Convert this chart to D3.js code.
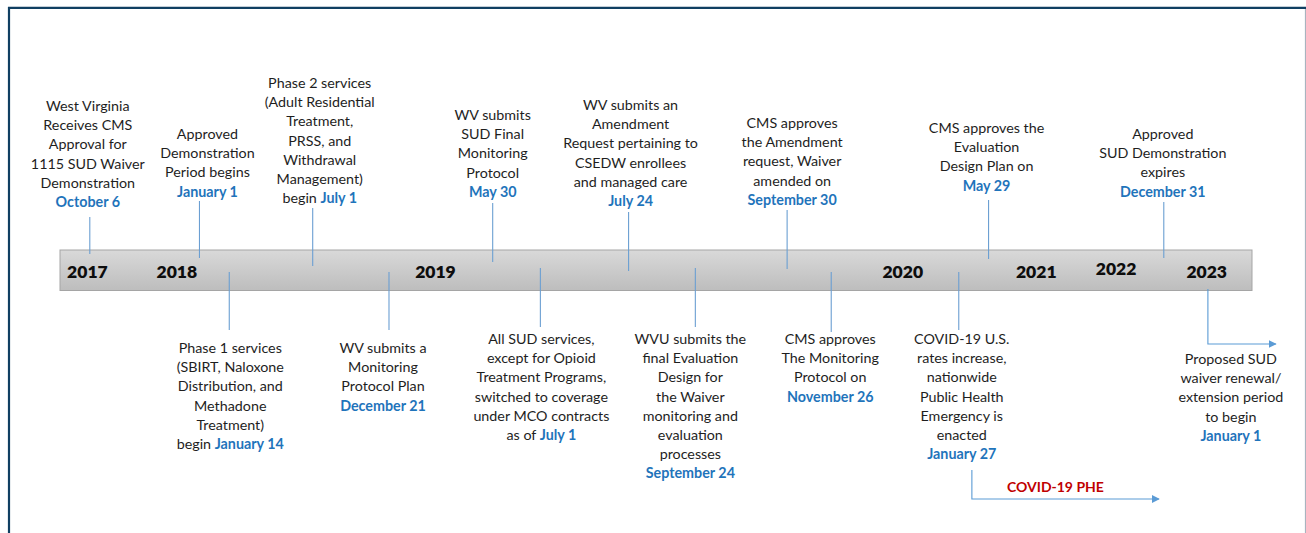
<!DOCTYPE html>
<html>
<head>
<meta charset="utf-8">
<script src="https://cdn.jsdelivr.net/npm/d3@7"></script>
<style>
  html, body { margin: 0; padding: 0; background: #fff; }
  svg { display: block; }
</style>
</head>
<body>
<svg id="chart" width="1306" height="533"></svg>
<script>
// ---------- DATA ----------
// Year labels on the track and their position along the track (% of track length)
const yearLabels = ["2017", "2018", "2019", "2020", "2021", "2022", "2023"];
const yearPos    = [2.3, 9.8, 31.5, 70.7, 81.9, 88.6, 96.2];

// Events above the track
const topText = [
  ["West Virginia", "Receives CMS", "Approval for", "1115 SUD Waiver", "Demonstration"],
  ["Approved", "Demonstration", "Period begins"],
  ["Phase 2 services", "(Adult Residential", "Treatment,", "PRSS, and", "Withdrawal", "Management)"],
  ["WV submits", "SUD Final", "Monitoring", "Protocol"],
  ["WV submits an", "Amendment", "Request pertaining to", "CSEDW enrollees", "and managed care"],
  ["CMS approves", "the Amendment", "request, Waiver", "amended on"],
  ["CMS approves the", "Evaluation", "Design Plan on"],
  ["Approved", "SUD Demonstration", "expires"]
];
const topDatePrefix = ["", "", "begin ", "", "", "", "", ""];
const topDates = ["October 6", "January 1", "July 1", "May 30", "July 24", "September 30", "May 29", "December 31"];
const topPos   = [2.5, 11.7, 21.2, 36.3, 47.7, 61.0, 77.9, 92.6];

// Events below the track
const bottomText = [
  ["Phase 1 services", "(SBIRT, Naloxone", "Distribution, and", "Methadone", "Treatment)"],
  ["WV submits a", "Monitoring", "Protocol Plan"],
  ["All SUD services,", "except for Opioid", "Treatment Programs,", "switched to coverage", "under MCO contracts"],
  ["WVU submits the", "final Evaluation", "Design for", "the Waiver", "monitoring and", "evaluation", "processes"],
  ["CMS approves", "The Monitoring", "Protocol on"],
  ["COVID-19 U.S.", "rates increase,", "nationwide", "Public Health", "Emergency is", "enacted"],
  ["Proposed SUD", "waiver renewal/", "extension period", "to begin"]
];
const bottomDatePrefix = ["begin ", "", "as of ", "", "", "", ""];
const bottomDates = ["January 14", "December 21", "July 1", "September 24", "November 26", "January 27", "January 1"];
const bottomPos   = [14.2, 27.6, 40.3, 53.3, 64.7, 75.4, 96.3];

// Period span below the track
const phaseLabels = ["COVID-19 PHE"];
const phaseStart  = [76.5];
const phaseEnd    = [92.2];

// ---------- LAYOUT (positions / styles, not data) ----------
const track = { x0: 60, x1: 1252, y0: 250, y1: 290.5 };
const lineH = 19.2;
// [label dx from stem, first-line center y, stem y-top, stem y-bottom]
const topLayout = [
  [-2, 106, 217, 254], [8, 134, 201, 258], [7, 83, 208, 266], [0, 115, 203, 262],
  [2, 105, 212, 271], [5, 123, 210, 269], [-2, 128, 200, 259], [-1, 134, 202, 258]
];
const bottomLayout = [
  [1, 348, 272, 330], [-6, 348, 272, 330], [1, 339, 268, 327], [-5, 339, 268, 327],
  [-1, 339, 272, 332], [3, 339, 272, 330], [23, 359, 289, 344]
];
const yearDy = [0, 0, 0, 0, 0, -3, 0];

const textColor = "#1e1e1e";
const dateColor = "#1f74bb";
const stemColor = "#6b9fd2";
const arrowColor = "#5b9bd5";
const font = "Lato, 'Open Sans', sans-serif";

// ---------- DRAW ----------
const svg = d3.select("#chart");
const x = d3.scaleLinear().domain([0, 100]).range([track.x0, track.x1]);

// frame
svg.append("rect").attr("x", 0).attr("y", 0).attr("width", 1306).attr("height", 533).attr("fill", "#fff");
svg.append("line").attr("x1", 1305.5).attr("x2", 1305.5).attr("y1", 8).attr("y2", 533)
  .attr("stroke", "#a9b4bf").attr("stroke-width", 1.2);
svg.append("line").attr("x1", 8).attr("x2", 1306).attr("y1", 7.8).attr("y2", 7.8)
  .attr("stroke", "#103f62").attr("stroke-width", 2.2);
svg.append("line").attr("x1", 9).attr("x2", 9).attr("y1", 7).attr("y2", 533)
  .attr("stroke", "#103f62").attr("stroke-width", 2.2);

// defs
const defs = svg.append("defs");
const grad = defs.append("linearGradient").attr("id", "trackGrad")
  .attr("x1", 0).attr("x2", 0).attr("y1", 0).attr("y2", 1);
grad.append("stop").attr("offset", "0%").attr("stop-color", "#d9d9d9");
grad.append("stop").attr("offset", "100%").attr("stop-color", "#bdbdbd");
defs.append("marker").attr("id", "arrowHead")
  .attr("viewBox", "0 0 10 10").attr("refX", 9).attr("refY", 5)
  .attr("markerWidth", 8).attr("markerHeight", 8).attr("markerUnits", "userSpaceOnUse")
  .attr("orient", "auto")
  .append("path").attr("d", "M0,0 L10,5 L0,10 Z").attr("fill", arrowColor);

// track bar
svg.append("rect")
  .attr("x", track.x0).attr("y", track.y0)
  .attr("width", track.x1 - track.x0).attr("height", track.y1 - track.y0)
  .attr("fill", "url(#trackGrad)").attr("stroke", "#a5a5a5").attr("stroke-width", 1);

// year labels
svg.append("g").selectAll("text").data(yearLabels).join("text")
  .attr("x", (d, i) => x(yearPos[i]))
  .attr("y", (d, i) => 278 + yearDy[i])
  .attr("text-anchor", "middle")
  .attr("font-family", font).attr("font-weight", 800).attr("font-size", 17.5)
  .attr("fill", "#0d0d0d")
  .text(d => d);

function drawLabel(g, lines, prefix, date, cx, firstY) {
  const t = g.append("text")
    .attr("text-anchor", "middle")
    .attr("font-family", font).attr("font-size", 14.3)
    .attr("fill", textColor);
  lines.forEach((ln, j) => {
    t.append("tspan").attr("x", cx).attr("y", firstY + 5 + j * lineH).text(ln);
  });
  const lastY = firstY + 5 + lines.length * lineH;
  if (prefix) {
    t.append("tspan").attr("x", cx).attr("y", lastY).text(prefix);
    t.append("tspan").attr("font-weight", 700).attr("fill", dateColor).text(date);
  } else {
    t.append("tspan").attr("x", cx).attr("y", lastY)
      .attr("font-weight", 700).attr("fill", dateColor).text(date);
  }
}

// top events
const gTop = svg.append("g");
topText.forEach((lines, i) => {
  const px = x(topPos[i]);
  const L = topLayout[i];
  gTop.append("line").attr("x1", px).attr("x2", px).attr("y1", L[2]).attr("y2", L[3])
    .attr("stroke", stemColor).attr("stroke-width", 1.1);
  drawLabel(gTop, lines, topDatePrefix[i], topDates[i], px + L[0], L[1]);
});

// bottom events
const gBot = svg.append("g");
bottomText.forEach((lines, i) => {
  const px = x(bottomPos[i]);
  const L = bottomLayout[i];
  if (i === bottomText.length - 1) {
    // elbow arrow to the future period
    gBot.append("path")
      .attr("d", `M${px},${L[2]} V${L[3]} H${px + 68}`)
      .attr("fill", "none").attr("stroke", arrowColor).attr("stroke-width", 1.1)
      .attr("marker-end", "url(#arrowHead)");
  } else {
    gBot.append("line").attr("x1", px).attr("x2", px).attr("y1", L[2]).attr("y2", L[3])
      .attr("stroke", stemColor).attr("stroke-width", 1.1);
  }
  drawLabel(gBot, lines, bottomDatePrefix[i], bottomDates[i], px + L[0], L[1]);
});

// phase span
phaseLabels.forEach((lab, i) => {
  const xs = x(phaseStart[i]), xe = x(phaseEnd[i]);
  svg.append("path")
    .attr("d", `M${xs},470 V499 H${xe}`)
    .attr("fill", "none").attr("stroke", arrowColor).attr("stroke-width", 1.1)
    .attr("marker-end", "url(#arrowHead)");
  svg.append("text")
    .attr("x", (xs + xe) / 2 - 10).attr("y", 492)
    .attr("text-anchor", "middle")
    .attr("font-family", font).attr("font-weight", 700).attr("font-size", 14)
    .attr("fill", "#c00000")
    .text(lab);
});
</script>
</body>
</html>
